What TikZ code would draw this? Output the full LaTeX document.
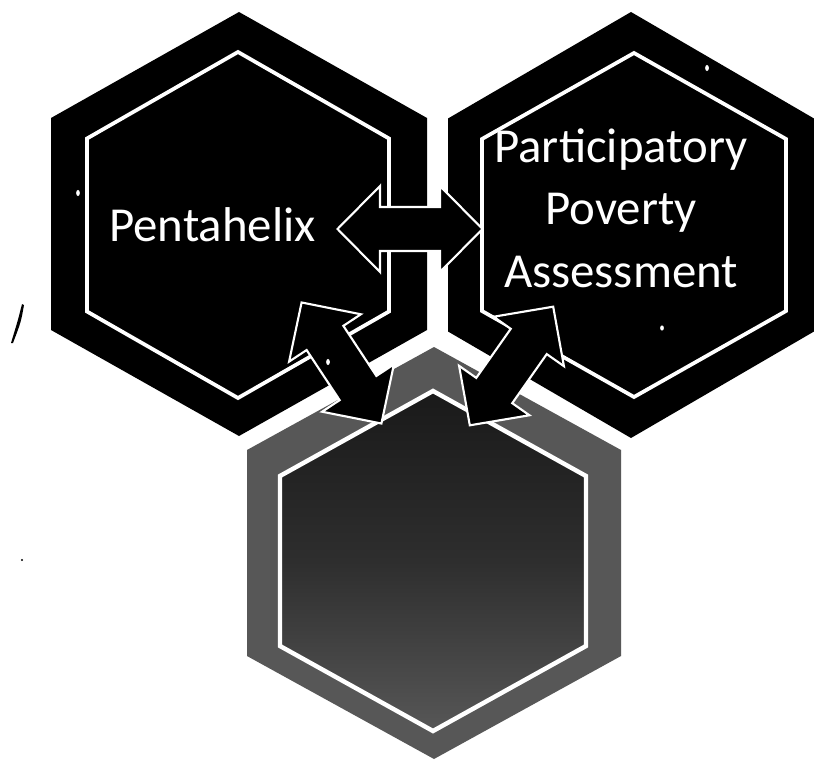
\documentclass[tikz,border=0pt]{standalone}
\usepackage{fontspec}
\setmainfont{Carlito}
\tikzset{
  hexouter/.style={fill=black},
  hexinner/.style={draw=white, line width=3.2pt, line join=miter},
  bothex/.style={fill=black!66},
  botinner/.style={draw=white, line width=3.8pt, line join=miter, top color=black!90, bottom color=black!66, middle color=black!82},
  dblarrow/.style={fill=black, draw=white, line width=1.8pt, line join=miter},
  hexlabel/.style={text=white, font=\fontsize{41.7}{52.7}\selectfont, inner sep=0pt},
  speck/.style={fill=white}
}
\newcommand{\dblarrowshape}{(-72.5,0) -- (-30,-43) -- (-30,-22) -- (30,-22) -- (30,-43) -- (72.5,0) -- (30,43) -- (30,22) -- (-30,22) -- (-30,43) -- cycle}
\begin{document}
\begin{tikzpicture}[x=0.03cm,y=-0.03cm]
\useasboundingbox (0,0) rectangle (814,763);
\fill[white] (0,0) rectangle (814,763);
% outer hexagons
\path[hexouter] (239,12) -- (427,118) -- (427,330) -- (239,436) -- (51,330) -- (51,118) -- cycle;
\path[hexouter] (631,12) -- (814,118.5) -- (814,331.5) -- (631,438) -- (448,331.5) -- (448,118.5) -- cycle;
\path[bothex] (434,347) -- (621,450) -- (621,656) -- (434,759) -- (247,656) -- (247,450) -- cycle;
% inner outlines
\path[hexinner] (238,52) -- (389,138.5) -- (389,311.5) -- (238,398) -- (87,311.5) -- (87,138.5) -- cycle;
\path[hexinner] (634,53) -- (786,139) -- (786,311) -- (634,397) -- (482,311) -- (482,139) -- cycle;
\path[botinner] (433,391) -- (586,476) -- (586,646) -- (433,731) -- (280,646) -- (280,476) -- cycle;
% arrow centres
\coordinate (arrowLR) at (410,229);
\coordinate (arrowLB) at (341.5,363);
\coordinate (arrowRB) at (511.5,366);
\begin{scope}[shift={(arrowLR)}]
  \path[dblarrow] \dblarrowshape;
\end{scope}
\begin{scope}[shift={(arrowLB)}, rotate=-56.6]
  \path[dblarrow] \dblarrowshape;
\end{scope}
\begin{scope}[shift={(arrowRB)}, rotate=54.9]
  \path[dblarrow] \dblarrowshape;
\end{scope}
% labels
\node[hexlabel, anchor=base] (penta) at (212.5,242) {Pentahelix};
\node[hexlabel, anchor=base] (ppa1) at (621,163) {Participatory};
\node[hexlabel, anchor=base] (ppa2) at (621,225) {Poverty};
\node[hexlabel, anchor=base] (ppa3) at (621,287) {Assessment};
% scan specks
\fill[speck] (78,193) ellipse [x radius=1.6pt, y radius=2.6pt];
\fill[speck] (328,362) ellipse [x radius=1.6pt, y radius=2.6pt];
\fill[speck] (707,68) ellipse [x radius=1.6pt, y radius=2.6pt];
\fill[speck] (662,328) ellipse [x radius=1.6pt, y radius=2.2pt];
\fill[black] (22,304) .. controls (18,320) .. (11,343) -- (13,343) .. controls (21,322) .. (24,305) -- cycle;
\fill[black] (22,560) circle [radius=0.9pt];
\end{tikzpicture}
\end{document}
